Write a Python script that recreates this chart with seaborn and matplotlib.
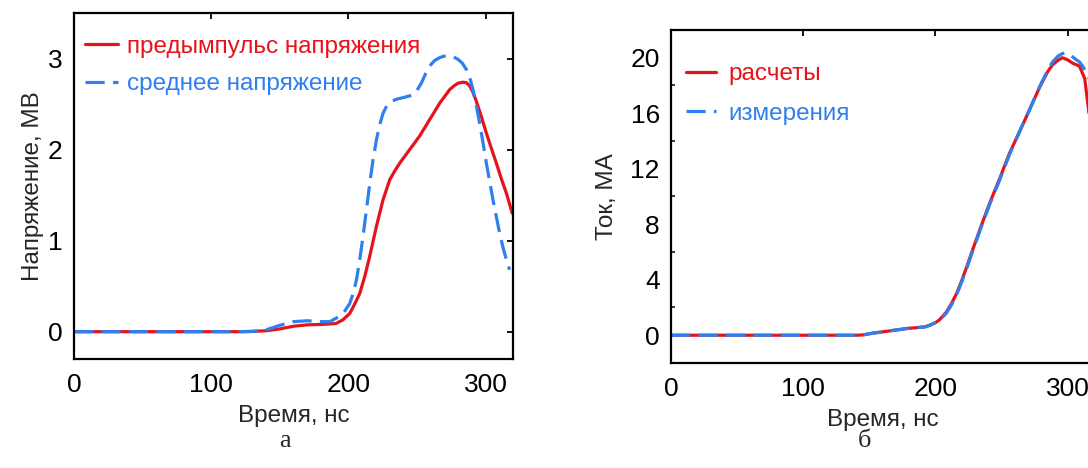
import matplotlib
matplotlib.use("Agg")
import matplotlib.pyplot as plt
import seaborn as sns
from matplotlib.ticker import MultipleLocator

# ──────────────────────────────────────────
# Data
# ──────────────────────────────────────────
# panel а: voltage, MV
t_pre = [0, 20, 40, 60, 80, 100, 120, 130, 140, 150, 160, 170, 180, 186.5, 191, 196,
         201, 204.5, 208.3, 212, 215.6, 220.5, 225.3, 230.2, 234, 237.4, 244.7, 252,
         259.3, 266.6, 270.5, 273.9, 277, 280, 283.6, 286, 288.4, 290.8, 293.3,
         297, 300.6, 304.3, 307.9, 311.5, 315.2, 319.5]
v_pre = [0, 0, 0, 0, 0, 0, 0, 0.003, 0.01, 0.03, 0.06, 0.075, 0.08, 0.085, 0.09, 0.13,
         0.2, 0.3, 0.42, 0.61, 0.83, 1.16, 1.45, 1.67, 1.77, 1.85, 2.0, 2.15,
         2.33, 2.51, 2.59, 2.66, 2.70, 2.73, 2.74, 2.735, 2.70, 2.63, 2.53,
         2.36, 2.18, 2.01, 1.85, 1.68, 1.52, 1.30]

t_avg = [0, 20, 40, 60, 80, 100, 120, 130, 140, 150, 160, 170, 180, 186.5, 193.7,
         197.5, 201, 203.5, 205.9, 208.3, 210.7, 213.2, 215.6, 218, 220.5, 223,
         225.3, 228, 231.4, 235.5, 239.8, 243.5, 247.1, 250, 253.2, 256.2, 259.3,
         263, 266.6, 269.5, 272.6, 276.5, 280, 283, 286, 288.5, 290.8, 293.2,
         295.7, 298.2, 300.6, 303, 305.4, 307.9, 310.3, 312.8, 315.2, 317.5]
v_avg = [0, 0, 0, 0, 0, 0, 0, 0.003, 0.02, 0.07, 0.11, 0.12, 0.11, 0.11, 0.17,
         0.23, 0.31, 0.42, 0.57, 0.79, 1.05, 1.34, 1.63, 1.89, 2.11, 2.28,
         2.40, 2.48, 2.53, 2.555, 2.57, 2.585, 2.60, 2.65, 2.73, 2.83, 2.92,
         2.98, 3.01, 3.025, 3.03, 3.02, 2.99, 2.95, 2.88, 2.79, 2.66, 2.49,
         2.29, 2.07, 1.85, 1.65, 1.45, 1.26, 1.08, 0.92, 0.79, 0.68]

# panel б: current, MA
t_calc = [0, 20, 40, 60, 80, 100, 120, 140, 145, 152.7, 166, 178, 192, 195.7, 200,
          203, 208, 212, 216, 220, 224, 228, 233.6, 241, 248.7, 256, 263.8, 271,
          279, 285, 288.7, 292.6, 296, 300, 304, 309, 313, 316, 320]
i_calc = [0, 0, 0, 0, 0, 0, 0, 0, 0.02, 0.15, 0.32, 0.48, 0.6, 0.72, 0.9,
          1.1, 1.63, 2.25, 3.0, 3.95, 5.0, 6.1, 7.6, 9.5, 11.3, 13.1, 14.7, 16.2,
          17.9, 19.0, 19.5, 19.8, 20.0, 19.85, 19.6, 19.4, 18.5, 16.2, 13.0]

t_meas = [0, 20, 40, 60, 80, 100, 120, 140, 145, 152.7, 166, 178, 192, 195.7, 200,
          203, 208, 212, 216, 220, 224, 228, 233.6, 241, 248.7, 256, 263.8, 271,
          279, 285, 288.7, 292.6, 296, 299, 302, 306, 309, 312, 315, 320]
i_meas = [0, 0, 0, 0, 0, 0, 0, 0, 0.02, 0.15, 0.32, 0.48, 0.6, 0.72, 0.9,
          1.08, 1.55, 2.15, 2.9, 3.85, 4.9, 6.0, 7.5, 9.4, 11.2, 13.0, 14.7, 16.2,
          17.95, 19.1, 19.7, 20.1, 20.3, 20.35, 20.2, 19.9, 19.7, 19.3, 18.8, 17.5]

RED = "#e5131c"
BLUE = "#2f7fee"
DASH = (0, (6, 2.6))
LW = 2.3
FS_TICK = 19
FS_TEXT = 17.5

# ──────────────────────────────────────────
# Style
# ──────────────────────────────────────────
sns.set_theme(style="white")
plt.rcParams["font.family"] = ["Liberation Sans", "DejaVu Sans"]
plt.rcParams.update({
    "axes.edgecolor": "black",
    "axes.linewidth": 1.6,
    "lines.solid_joinstyle": "round",
    "lines.dash_joinstyle": "round",
    "xtick.direction": "in",
    "ytick.direction": "in",
    "xtick.top": True,
    "ytick.right": True,
    "xtick.major.size": 4,
    "ytick.major.size": 4,
    "ytick.minor.size": 3,
    "xtick.major.width": 1.3,
    "ytick.major.width": 1.3,
    "ytick.minor.width": 1.1,
    "xtick.color": "black",
    "ytick.color": "black",
    "xtick.labelsize": FS_TICK,
    "ytick.labelsize": FS_TICK,
    "xtick.major.pad": 10,
    "ytick.major.pad": 8,
})

fig = plt.figure(figsize=(10.88, 4.68), dpi=100)
ax1 = fig.add_axes([0.068, 0.2329, 0.4035, 0.7393])
ax2 = fig.add_axes([0.6167, 0.2244, 0.3888, 0.7115])

# --- а: voltage ---
sns.lineplot(x=t_pre, y=v_pre, ax=ax1, color=RED, linewidth=LW,
             label="предымпульс напряжения")
sns.lineplot(x=t_avg, y=v_avg, ax=ax1, color=BLUE, linewidth=LW,
             linestyle=DASH, label="среднее напряжение")
ax1.set_xlim(0, 320)
ax1.set_ylim(-0.3, 3.5)
ax1.set_xticks([0, 100, 200, 300])
ax1.set_yticks([0, 1, 2, 3])
ax1.set_xlabel("Время, нс", fontsize=FS_TEXT, labelpad=6)
ax1.set_ylabel("Напряжение, МВ", fontsize=FS_TEXT, labelpad=3)
ax1.legend(loc="upper left", bbox_to_anchor=(0.026, 0.935), frameon=False,
           fontsize=FS_TEXT, handlelength=1.35, handletextpad=0.35,
           labelspacing=0.65, borderaxespad=0, borderpad=0,
           labelcolor="linecolor")

# --- б: current ---
sns.lineplot(x=t_calc, y=i_calc, ax=ax2, color=RED, linewidth=LW,
             label="расчеты")
sns.lineplot(x=t_meas, y=i_meas, ax=ax2, color=BLUE, linewidth=LW,
             linestyle=DASH, label="измерения")
ax2.set_xlim(0, 320)
ax2.set_ylim(-2, 22)
ax2.set_xticks([0, 100, 200, 300])
ax2.set_yticks([0, 4, 8, 12, 16, 20])
ax2.yaxis.set_minor_locator(MultipleLocator(2))
ax2.tick_params(axis="y", which="minor", left=True, right=True)
ax2.set_xlabel("Время, нс", fontsize=FS_TEXT, labelpad=6)
ax2.set_ylabel("Ток, МА", fontsize=FS_TEXT, labelpad=9)
ax2.legend(loc="upper left", bbox_to_anchor=(0.035, 0.9), frameon=False,
           fontsize=FS_TEXT, handlelength=1.25, handletextpad=0.5,
           labelspacing=0.72, borderaxespad=0, borderpad=0,
           labelcolor="linecolor")

# panel letters
fig.text(0.262, 0.045, "а", fontsize=19, family="Liberation Serif", ha="center")
fig.text(0.795, 0.045, "б", fontsize=19, family="Liberation Serif", ha="center")

fig.savefig("out.png", dpi=100)
plt.close(fig)
